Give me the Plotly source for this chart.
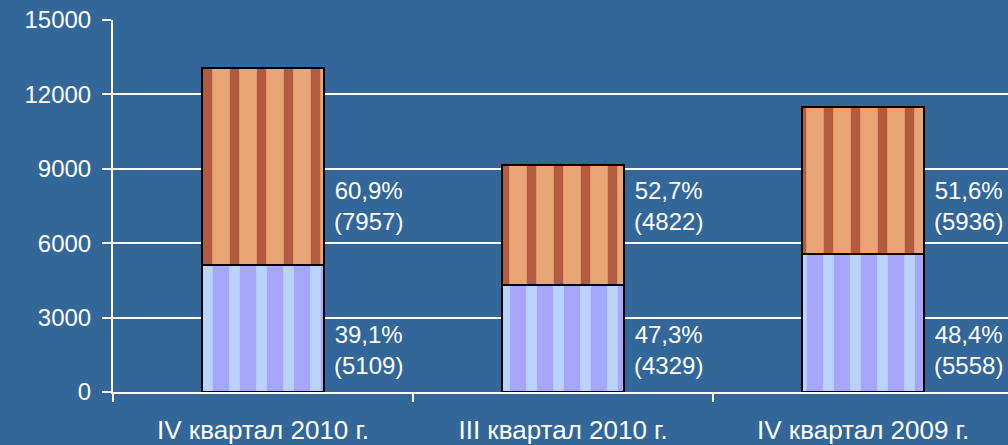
import plotly.graph_objects as go

categories = ["IV квартал 2010 г.", "III квартал 2010 г.", "IV квартал 2009 г."]
lower_values = [5109, 4329, 5558]
upper_values = [7957, 4822, 5936]
lower_pct = ["39,1%", "47,3%", "48,4%"]
upper_pct = ["60,9%", "52,7%", "51,6%"]
y_ticks = [0, 3000, 6000, 9000, 12000, 15000]

BG = "#336699"
FONT = "Liberation Sans, Arial, sans-serif"

fig = go.Figure()
fig.add_trace(go.Bar(
    x=categories, y=lower_values, width=0.405,
    marker=dict(color="#a6a6fc", line=dict(color="black", width=2),
                pattern=dict(shape="|", fgcolor="#cdfdff", size=27, solidity=0.4)),
    showlegend=False, hoverinfo="y",
))
fig.add_trace(go.Bar(
    x=categories, y=upper_values, width=0.405,
    marker=dict(color="#e8a677", line=dict(color="black", width=2),
                pattern=dict(shape="|", fgcolor="#7e1006", size=27, solidity=0.35)),
    showlegend=False, hoverinfo="y",
))

annotations = []
for i, c in enumerate(categories):
    annotations.append(dict(
        x=i + 0.352, y=7500, xref="x", yref="y", showarrow=False,
        text=f"{upper_pct[i]}<br>({upper_values[i]})", align="center",
        xanchor="center", yanchor="middle",
        font=dict(color="white", size=24, family=FONT),
    ))
    annotations.append(dict(
        x=i + 0.352, y=1690, xref="x", yref="y", showarrow=False,
        text=f"{lower_pct[i]}<br>({lower_values[i]})", align="center",
        xanchor="center", yanchor="middle",
        font=dict(color="white", size=24, family=FONT),
    ))

fig.update_layout(
    barmode="stack",
    width=1008, height=445,
    margin=dict(l=113, r=0, t=20, b=53, autoexpand=False),
    paper_bgcolor=BG, plot_bgcolor=BG,
    font=dict(family=FONT, size=24, color="white"),
    annotations=annotations,
    bargap=0,
)
fig.update_xaxes(
    type="category", range=[-0.5, 2.483],
    showgrid=False, showline=True, linecolor="white", linewidth=2,
    ticks="outside", tickson="boundaries", ticklen=8, tickcolor="white", tickwidth=2,
    ticklabelstandoff=14,
    tickfont=dict(size=26, color="white", family=FONT),
)
fig.update_yaxes(
    range=[0, 15000], tickvals=y_ticks, tickformat="d",
    showgrid=True, gridcolor="white", gridwidth=2,
    showline=True, linecolor="white", linewidth=2,
    ticks="outside", ticklen=9, tickcolor="white", tickwidth=2,
    ticklabelstandoff=6, ticklabeloverflow="allow",
    tickfont=dict(size=24, color="white", family=FONT),
    zeroline=False,
)

fig.write_html(
    "out.html",
    config={"displayModeBar": False},
    post_script="document.body.style.margin='0';document.body.style.background='%s';" % BG,
)
